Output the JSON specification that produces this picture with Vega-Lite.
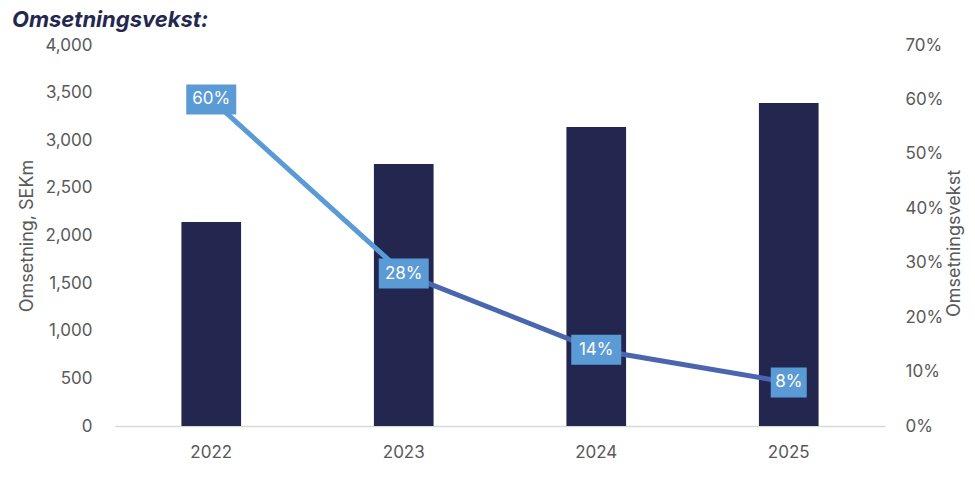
{
  "$schema": "https://vega.github.io/schema/vega-lite/v6.json",
  "description": "Omsetning og omsetningsvekst 2022-2025",
  "width": 770,
  "height": 381,
  "autosize": "none",
  "padding": {"left": 115, "top": 45, "right": 90, "bottom": 51},
  "datasets": {
    "main": [
      {"year": "2022", "revenue": 2142, "growth": 0.60},
      {"year": "2023", "revenue": 2751, "growth": 0.28},
      {"year": "2024", "revenue": 3139, "growth": 0.14},
      {"year": "2025", "revenue": 3391, "growth": 0.08}
    ],
    "segments": [
      {"year": "2022", "growth": 0.60, "seg": "a"},
      {"year": "2023", "growth": 0.28, "seg": "a"},
      {"year": "2023", "growth": 0.28, "seg": "b"},
      {"year": "2024", "growth": 0.14, "seg": "b"},
      {"year": "2025", "growth": 0.08, "seg": "b"}
    ]
  },
  "data": {"name": "main"},
  "title": {
    "text": "Omsetningsvekst:",
    "anchor": "start",
    "frame": "group",
    "dx": -103,
    "offset": 4,
    "font": "Inter",
    "fontSize": 22,
    "fontWeight": "bold",
    "fontStyle": "italic",
    "color": "#24284f"
  },
  "encoding": {
    "x": {
      "field": "year",
      "type": "ordinal",
      "scale": {"type": "band", "paddingInner": 0.69, "paddingOuter": 0.345},
      "axis": {
        "title": null,
        "labelAngle": 0,
        "ticks": false,
        "domainColor": "#d9d9d9",
        "domainWidth": 1.5,
        "labelPadding": 18,
        "labelFontSize": 17,
        "labelColor": "#595959",
        "labelFont": "Inter"
      }
    }
  },
  "layer": [
    {
      "mark": {"type": "bar", "color": "#23264f"},
      "encoding": {
        "y": {
          "field": "revenue",
          "type": "quantitative",
          "scale": {"domain": [0, 4000]},
          "axis": {
            "title": "Omsetning, SEKm",
            "values": [0, 500, 1000, 1500, 2000, 2500, 3000, 3500, 4000],
            "format": ",.0f",
            "grid": false,
            "domain": false,
            "ticks": false,
            "labelPadding": 23,
            "titlePadding": 8,
            "labelFontSize": 17,
            "labelColor": "#595959",
            "labelFont": "Inter",
            "titleFontSize": 18,
            "titleFontWeight": "normal",
            "titleColor": "#595959",
            "titleFont": "Inter"
          }
        }
      }
    },
    {
      "encoding": {
        "y": {
          "field": "growth",
          "type": "quantitative",
          "scale": {"domain": [0, 0.7]},
          "axis": {
            "orient": "right",
            "title": "Omsetningsvekst",
            "values": [0, 0.1, 0.2, 0.3, 0.4, 0.5, 0.6, 0.7],
            "format": ".0%",
            "grid": false,
            "domain": false,
            "ticks": false,
            "labelPadding": 20,
            "titlePadding": 20,
            "titleAngle": 270,
            "titleY": 198,
            "labelFontSize": 17,
            "labelColor": "#595959",
            "labelFont": "Inter",
            "titleFontSize": 18,
            "titleFontWeight": "normal",
            "titleColor": "#595959",
            "titleFont": "Inter"
          }
        }
      },
      "layer": [
        {
          "data": {"name": "segments"},
          "mark": {"type": "line", "strokeWidth": 5},
          "encoding": {
            "color": {
              "field": "seg",
              "type": "nominal",
              "scale": {"domain": ["a", "b"], "range": ["#5b9bd5", "#4a66ae"]},
              "legend": null
            },
            "detail": {"field": "seg"}
          }
        },
        {
          "mark": {"type": "point", "filled": true, "opacity": 1, "size": 2500, "color": "#5b9bd5", "strokeWidth": 0},
          "encoding": {
            "shape": {
              "condition": {"test": "datum.growth < 0.1", "value": "M-0.72,-0.6H0.72V0.6H-0.72Z"},
              "value": "M-1,-0.6H1V0.6H-1Z"
            }
          }
        },
        {
          "mark": {"type": "text", "color": "#ffffff", "fontSize": 17, "font": "Inter", "baseline": "middle", "align": "center"},
          "encoding": {
            "text": {"field": "growth", "type": "quantitative", "format": ".0%"}
          }
        }
      ]
    }
  ],
  "resolve": {"scale": {"y": "independent"}},
  "config": {
    "view": {"stroke": null},
    "font": "Inter"
  }
}
